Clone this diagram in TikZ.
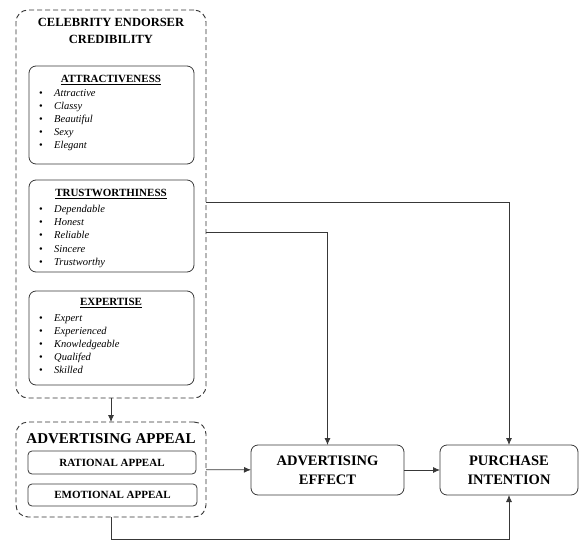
\documentclass[tikz,border=0pt]{standalone}
\usepackage{fontspec}
\setmainfont{Liberation Serif}
\usetikzlibrary{arrows.meta,positioning}
\newcommand{\bitem}[1]{\makebox[15pt][l]{\textbullet}\textit{#1}}
\begin{document}
\begin{tikzpicture}[x=1pt,y=-1pt,
  dashbox/.style={draw=black!80, dash pattern=on 5pt off 3pt, line width=0.9pt, rounded corners=12pt, inner sep=0pt, outer sep=0pt},
  solidbox/.style={draw=black!78, line width=0.8pt, rounded corners=7pt, inner sep=0pt, outer sep=0pt},
  head/.style={font=\bfseries\fontsize{11}{13}\selectfont, inner sep=0pt},
  itemlist/.style={anchor=north west, align=left, inner sep=0pt, font=\fontsize{10.5}{13.2}\selectfont},
  conn/.style={draw=black!78, line width=0.8pt, -{Latex[length=7pt,width=6pt]}}]
\useasboundingbox (0,0) rectangle (579,541);
% celebrity endorser credibility
\node[dashbox, minimum width=190pt, minimum height=388pt] (ceb) at (111,204) {};
\node[align=center, inner sep=0pt, font=\bfseries\fontsize{12.5}{17}\selectfont] (cebtitle) at (111,31)
{CELEBRITY ENDORSER\\CREDIBILITY};
\node[solidbox, minimum width=165pt, minimum height=98pt] (attr) at (111.5,115) {};
\node[head] (attrhead) at (111,80) {\underline{ATTRACTIVENESS}};
\node[itemlist] (attrlist) at (39,89)
{\bitem{Attractive}\\\bitem{Classy}\\\bitem{Beautiful}\\\bitem{Sexy}\\\bitem{Elegant}};
\node[solidbox, minimum width=165pt, minimum height=92pt] (trust) at (111.5,226) {};
\node[head] (trusthead) at (111,194) {\underline{TRUSTWORTHINESS}};
\node[itemlist] (trustlist) at (39,205)
{\bitem{Dependable}\\\bitem{Honest}\\\bitem{Reliable}\\\bitem{Sincere}\\\bitem{Trustworthy}};
\node[solidbox, minimum width=165pt, minimum height=94pt] (expert) at (111.5,338) {};
\node[head] (experthead) at (111,303) {\underline{EXPERTISE}};
\node[itemlist] (expertlist) at (39,314)
{\bitem{Expert}\\\bitem{Experienced}\\\bitem{Knowledgeable}\\\bitem{Qualifed}\\\bitem{Skilled}};
% advertising appeal
\node[dashbox, minimum width=190pt, minimum height=95pt] (appeal) at (111,469.5) {};
\node[inner sep=0pt, font=\bfseries\fontsize{15}{17}\selectfont] (appealtitle) at (111,439) {ADVERTISING APPEAL};
\node[solidbox, rounded corners=4pt, minimum width=168pt, minimum height=23pt, font=\bfseries\fontsize{11}{13}\selectfont] (rational) at (112,462.5) {RATIONAL APPEAL};
\node[solidbox, rounded corners=4pt, minimum width=169pt, minimum height=22pt, font=\bfseries\fontsize{11}{13}\selectfont] (emotional) at (112.5,495) {EMOTIONAL APPEAL};
% outcomes
\node[solidbox, minimum width=153pt, minimum height=50pt, align=center, font=\bfseries\fontsize{14.5}{19}\selectfont] (effect) at (327.5,470) {ADVERTISING\\EFFECT};
\node[solidbox, minimum width=138pt, minimum height=50pt, align=center, font=\bfseries\fontsize{14.5}{19}\selectfont] (purchase) at (509,470) {PURCHASE\\INTENTION};
\coordinate (t1) at (206,202);
\coordinate (t2) at (206,232);
\coordinate (b1) at (111,539);
\draw[conn] (ceb) -- (appeal);
\draw[conn] (t1) -| (purchase);
\draw[conn] (t2) -| (effect);
\draw[conn] (appeal) -- (effect);
\draw[conn] (effect) -- (purchase);
\draw[conn] (appeal.south) -- (b1) -| (purchase);
\end{tikzpicture}
\end{document}
